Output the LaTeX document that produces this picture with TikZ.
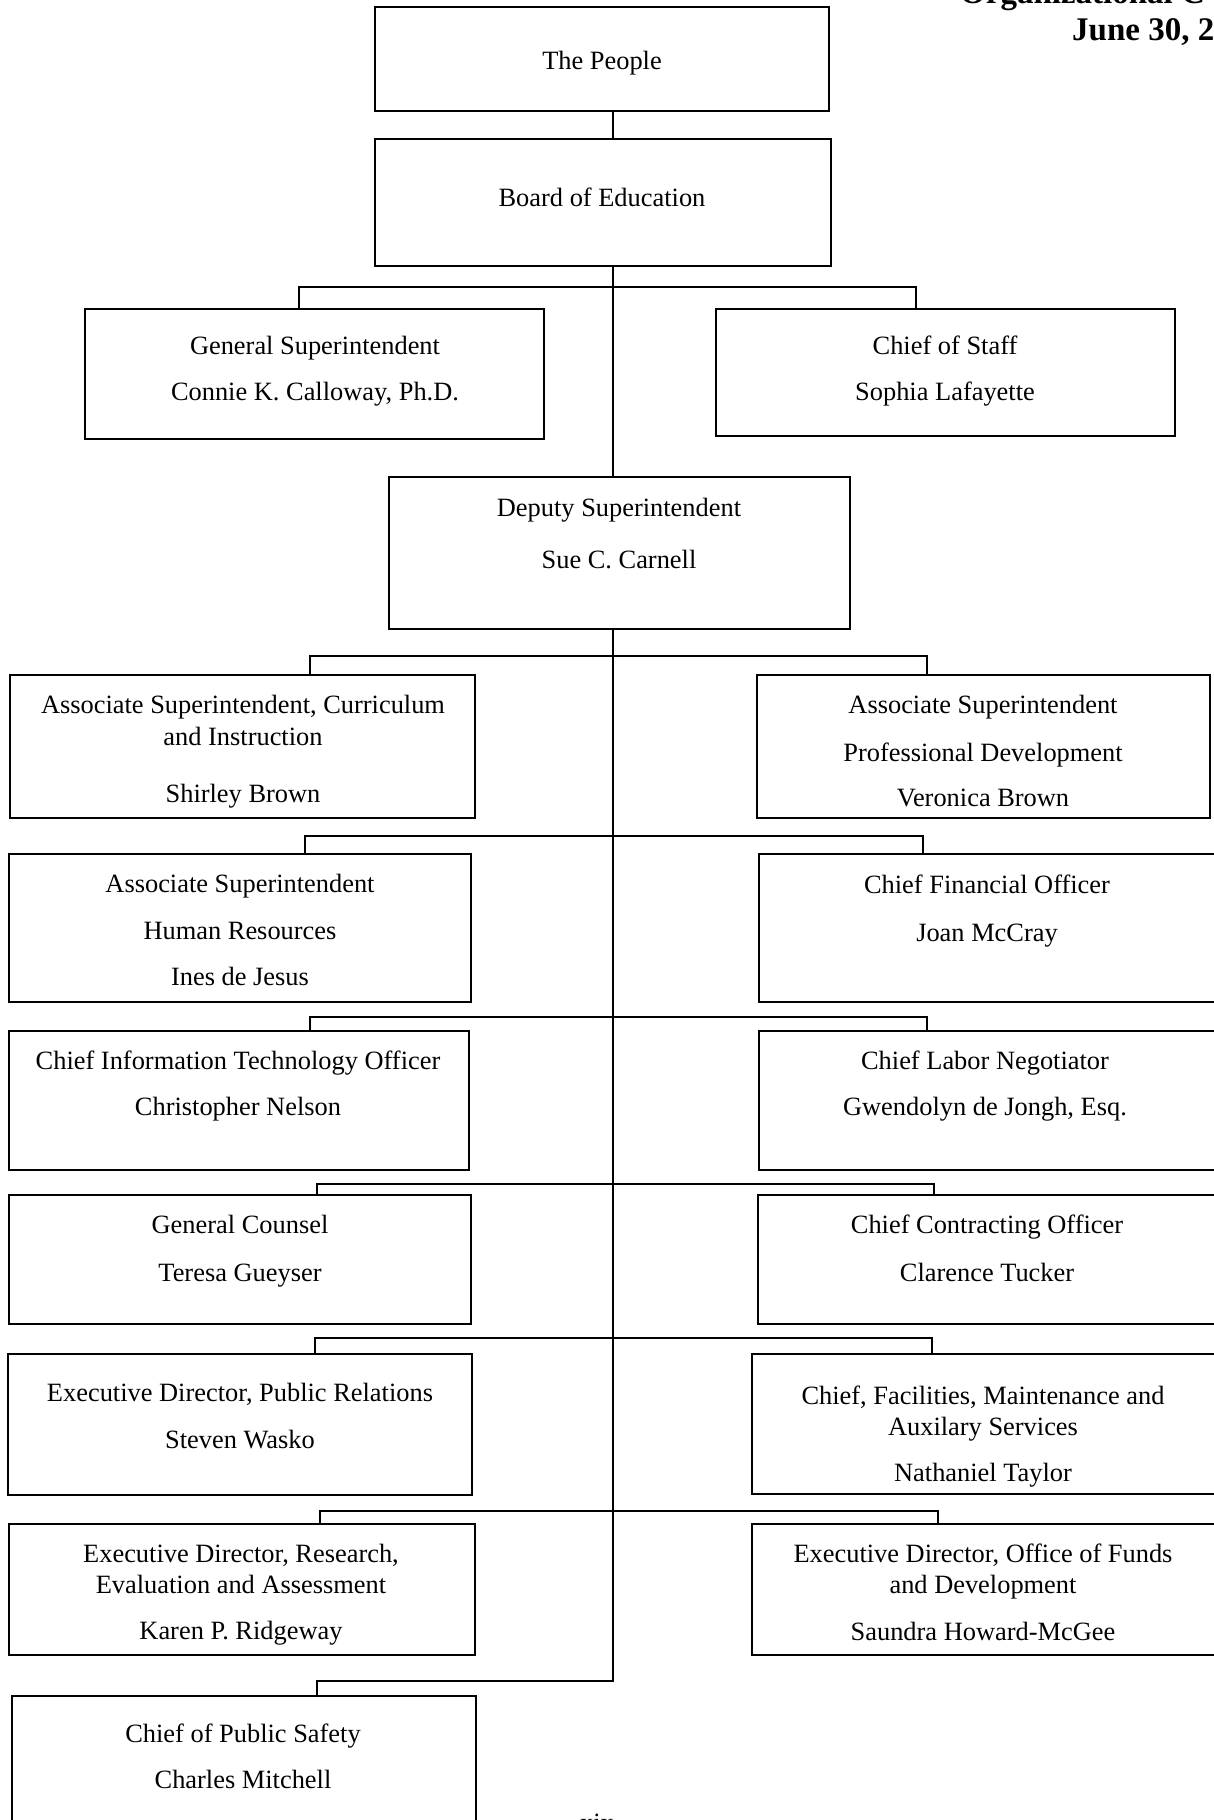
\documentclass[tikz,border=0pt]{standalone}
\usepackage{fontspec}
\setmainfont{Liberation Serif}
\begin{document}
\begin{tikzpicture}[x=1pt,y=-1pt,
  box/.style={draw, line width=1.4pt, inner sep=0pt, fill=none},
  conn/.style={line width=1.4pt},
  lbl/.style={inner sep=0pt, anchor=base, yshift=-9pt, font=\fontsize{26.4}{30}\selectfont},
  ttl/.style={inner sep=0pt, anchor=base west, font=\fontsize{33}{36}\selectfont\bfseries}]
\useasboundingbox (0,0) rectangle (1214,1820);
\clip (0,0) rectangle (1214,1820);
\fill[white] (0,0) rectangle (1214,1820);
% title (cut by the page edge)
\node[ttl] (t1) at (960,4) {Organizational C};
\node[ttl] (t2) at (1072,40) {June 30, 2};
% boxes
\node[box, minimum width=454pt, minimum height=104pt] (people) at (602,59) {};
\node[box, minimum width=456pt, minimum height=127pt] (board) at (603,202.5) {};
\node[box, minimum width=459pt, minimum height=130pt] (gs) at (314.5,374) {};
\node[box, minimum width=459pt, minimum height=127pt] (cos) at (945.5,372.5) {};
\node[box, minimum width=461pt, minimum height=152pt] (dep) at (619.5,553) {};
\node[box, minimum width=465pt, minimum height=143pt] (asc) at (242.5,746.5) {};
\node[box, minimum width=453pt, minimum height=143pt] (aspd) at (983.5,746.5) {};
\node[box, minimum width=462pt, minimum height=148pt] (hr) at (240,928) {};
\node[box, minimum width=461pt, minimum height=148pt] (cfo) at (989.5,928) {};
\node[box, minimum width=460pt, minimum height=139pt] (cito) at (239,1100.5) {};
\node[box, minimum width=461pt, minimum height=139pt] (labor) at (989.5,1100.5) {};
\node[box, minimum width=462pt, minimum height=129pt] (gc) at (240,1259.5) {};
\node[box, minimum width=462pt, minimum height=129pt] (contr) at (989,1259.5) {};
\node[box, minimum width=464pt, minimum height=141pt] (pr) at (240,1424.5) {};
\node[box, minimum width=468pt, minimum height=140pt] (fac) at (986,1424) {};
\node[box, minimum width=466pt, minimum height=131pt] (res) at (242,1589.5) {};
\node[box, minimum width=468pt, minimum height=131pt] (funds) at (986,1589.5) {};
\node[box, minimum width=464pt, minimum height=144pt] (safe) at (244,1768) {};
% texts
\node[lbl] at (602,60) {The People};
\node[lbl] at (602,197) {Board of Education};
\node[lbl] at (315,345) {General Superintendent};
\node[lbl] at (315,391) {Connie K. Calloway, Ph.D.};
\node[lbl] at (945,345) {Chief of Staff};
\node[lbl] at (945,391) {Sophia Lafayette};
\node[lbl] at (619,507) {Deputy Superintendent};
\node[lbl] at (619,559) {Sue C. Carnell};
\node[lbl] at (243,704) {Associate Superintendent, Curriculum};
\node[lbl] at (243,736) {and Instruction};
\node[lbl] at (243,793) {Shirley Brown};
\node[lbl] at (983,704) {Associate Superintendent};
\node[lbl] at (983,752) {Professional Development};
\node[lbl] at (983,797) {Veronica Brown};
\node[lbl] at (240,883) {Associate Superintendent};
\node[lbl] at (240,930) {Human Resources};
\node[lbl] at (240,976) {Ines de Jesus};
\node[lbl] at (987,884) {Chief Financial Officer};
\node[lbl] at (987,932) {Joan McCray};
\node[lbl] at (238,1060) {Chief Information Technology Officer};
\node[lbl] at (238,1106) {Christopher Nelson};
\node[lbl] at (985,1060) {Chief Labor Negotiator};
\node[lbl] at (985,1106) {Gwendolyn de Jongh, Esq.};
\node[lbl] at (240,1224) {General Counsel};
\node[lbl] at (240,1272) {Teresa Gueyser};
\node[lbl] at (987,1224) {Chief Contracting Officer};
\node[lbl] at (987,1272) {Clarence Tucker};
\node[lbl] at (240,1392) {Executive Director, Public Relations};
\node[lbl] at (240,1439) {Steven Wasko};
\node[lbl] at (983,1395) {Chief, Facilities, Maintenance and};
\node[lbl] at (983,1426) {Auxilary Services};
\node[lbl] at (983,1472) {Nathaniel Taylor};
\node[lbl] at (241,1553) {Executive Director, Research,};
\node[lbl] at (241,1584) {Evaluation and Assessment};
\node[lbl] at (241,1630) {Karen P. Ridgeway};
\node[lbl] at (983,1553) {Executive Director, Office of Funds};
\node[lbl] at (983,1584) {and Development};
\node[lbl] at (983,1631) {Saundra Howard-McGee};
\node[lbl] at (243,1733) {Chief of Public Safety};
\node[lbl] at (243,1779) {Charles Mitchell};
\node[inner sep=0pt, anchor=base, font=\fontsize{26.4}{30}\selectfont] (pg) at (597,1831) {xix};
% connector coordinates
\coordinate (sp) at (613,0);
\coordinate (b1l) at (299,287);  \coordinate (b1r) at (916,287);
\coordinate (b2l) at (310,656);  \coordinate (b2r) at (927,656);
\coordinate (b3l) at (305,836);  \coordinate (b3r) at (923,836);
\coordinate (b4l) at (310,1017); \coordinate (b4r) at (927,1017);
\coordinate (b5l) at (317,1184); \coordinate (b5r) at (934,1184);
\coordinate (b6l) at (315,1338); \coordinate (b6r) at (932,1338);
\coordinate (b7l) at (320,1511); \coordinate (b7r) at (938,1511);
\coordinate (b8l) at (317,1681); \coordinate (send) at (613,1681);
% connectors
\draw[conn] (people.south -| sp) -- (board.north -| sp);
\draw[conn] (board.south -| sp) -- (dep.north -| sp);
\draw[conn] (dep.south -| sp) -- (send) -- (b8l) -- (safe.north -| b8l);
\draw[conn] (gs.north -| b1l) -- (b1l) -- (b1r) -- (cos.north -| b1r);
\draw[conn] (asc.north -| b2l) -- (b2l) -- (b2r) -- (aspd.north -| b2r);
\draw[conn] (hr.north -| b3l) -- (b3l) -- (b3r) -- (cfo.north -| b3r);
\draw[conn] (cito.north -| b4l) -- (b4l) -- (b4r) -- (labor.north -| b4r);
\draw[conn] (gc.north -| b5l) -- (b5l) -- (b5r) -- (contr.north -| b5r);
\draw[conn] (pr.north -| b6l) -- (b6l) -- (b6r) -- (fac.north -| b6r);
\draw[conn] (res.north -| b7l) -- (b7l) -- (b7r) -- (funds.north -| b7r);
\end{tikzpicture}
\end{document}
